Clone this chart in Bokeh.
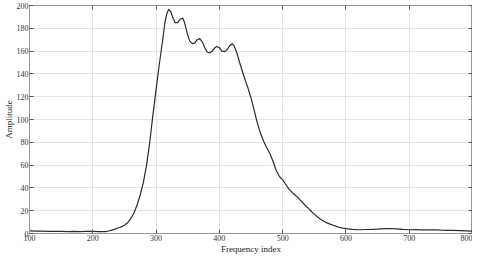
from bokeh.plotting import figure
from bokeh.models import LinearAxis, Range1d
from bokeh.embed import file_html
from bokeh.resources import INLINE

freq = [100, 110, 120, 130, 140, 150, 160, 170, 180, 190, 200, 210, 220, 225, 230, 235,
        240, 245, 250, 255, 260, 265, 270, 275, 280, 285, 290, 295, 300, 305, 310, 314,
        317, 320, 323, 326, 330, 334, 338, 342, 345, 349, 353, 357, 361, 365, 369, 373,
        377, 381, 385, 389, 393, 396, 400, 404, 408, 412, 416, 420, 423, 426, 429, 432,
        436, 440, 445, 450, 455, 460, 465, 470, 475, 480, 485, 490, 495, 500, 505, 510,
        515, 520, 525, 530, 535, 540, 545, 550, 555, 560, 565, 570, 575, 580, 585, 590,
        595, 600, 610, 620, 630, 640, 650, 660, 670, 680, 690, 700, 710, 720, 730, 740,
        750, 760, 770, 780, 790, 800]
amp = [2.3, 2.1, 2.0, 1.9, 1.8, 1.8, 1.7, 1.8, 1.7, 1.8, 1.8, 1.6, 1.7, 2.2, 3.0, 3.8,
       4.8, 5.8, 7.2, 9.5, 13, 18, 25, 34, 45, 60, 80, 104, 126, 148, 168, 185,
       193, 196.5, 195, 190, 185, 185, 188, 189, 185, 176, 169, 166.5, 167, 170, 171, 168,
       163, 159, 158.5, 160, 163, 164, 163, 160, 159.5, 161, 164.5, 166.5, 165, 161, 156, 150,
       143, 136, 128, 119, 108, 97, 88, 81, 75, 70, 63, 55, 50, 47, 43, 39,
       36, 33.5, 31, 28, 25, 22.5, 19.5, 17, 14.5, 12.5, 10.8, 9.3, 8.2, 7.2, 6.2, 5.3,
       4.7, 4.2, 3.6, 3.3, 3.5, 3.6, 3.9, 4.3, 4.4, 4.0, 3.6, 3.3, 3.4, 3.2, 3.1, 3.3,
       3.0, 2.8, 2.7, 2.5, 2.3, 2.0]

x_ticks = [100, 200, 300, 400, 500, 600, 700, 800]
y_ticks = [0, 20, 40, 60, 80, 100, 120, 140, 160, 180, 200]
x_label = "Frequency index"
y_label = "Amplitude"

FONT = "Liberation Serif"
FRAME = "#9a9a9a"

p = figure(width=472, height=256, output_backend="svg", toolbar_location=None,
           x_range=Range1d(100, 800), y_range=Range1d(0, 200),
           min_border_left=0, min_border_right=0, min_border_top=5, min_border_bottom=0)
p.background_fill_color = "white"
p.border_fill_color = "white"
p.outline_line_color = FRAME
p.outline_line_width = 1

p.line(freq, amp, line_color="#2b2b2b", line_width=1.2)

for ax in (p.xaxis[0], p.yaxis[0]):
    ax.major_tick_in = 4
    ax.major_tick_out = 0
    ax.minor_tick_in = 0
    ax.minor_tick_out = 0
    ax.axis_line_color = FRAME
    ax.major_tick_line_color = "#555555"
    ax.major_label_text_font = FONT
    ax.major_label_text_font_size = "8px"
    ax.major_label_text_color = "#333333"
    ax.axis_label_text_font = FONT
    ax.axis_label_text_font_size = "9px"
    ax.axis_label_text_font_style = "normal"
    ax.axis_label_text_color = "#222222"

p.xaxis[0].ticker = x_ticks
p.yaxis[0].ticker = y_ticks
p.xaxis[0].axis_label = x_label
p.yaxis[0].axis_label = y_label
p.xaxis[0].major_label_standoff = 1
p.xaxis[0].axis_label_standoff = 0
p.yaxis[0].major_label_standoff = 1
p.yaxis[0].axis_label_standoff = 0

top = LinearAxis(ticker=x_ticks, major_label_overrides={t: "" for t in x_ticks})
right = LinearAxis(ticker=y_ticks, major_label_overrides={t: "" for t in y_ticks})
for ax in (top, right):
    ax.major_tick_in = 4
    ax.major_tick_out = 0
    ax.minor_tick_in = 0
    ax.minor_tick_out = 0
    ax.axis_line_color = FRAME
    ax.major_tick_line_color = "#555555"
    ax.major_label_standoff = 0
p.add_layout(top, "above")
p.add_layout(right, "right")

p.xgrid.ticker = x_ticks
p.ygrid.ticker = y_ticks
p.xgrid.grid_line_color = "#e4e4e4"
p.ygrid.grid_line_color = "#e4e4e4"

open("out.html", "w").write(file_html(p, INLINE))
